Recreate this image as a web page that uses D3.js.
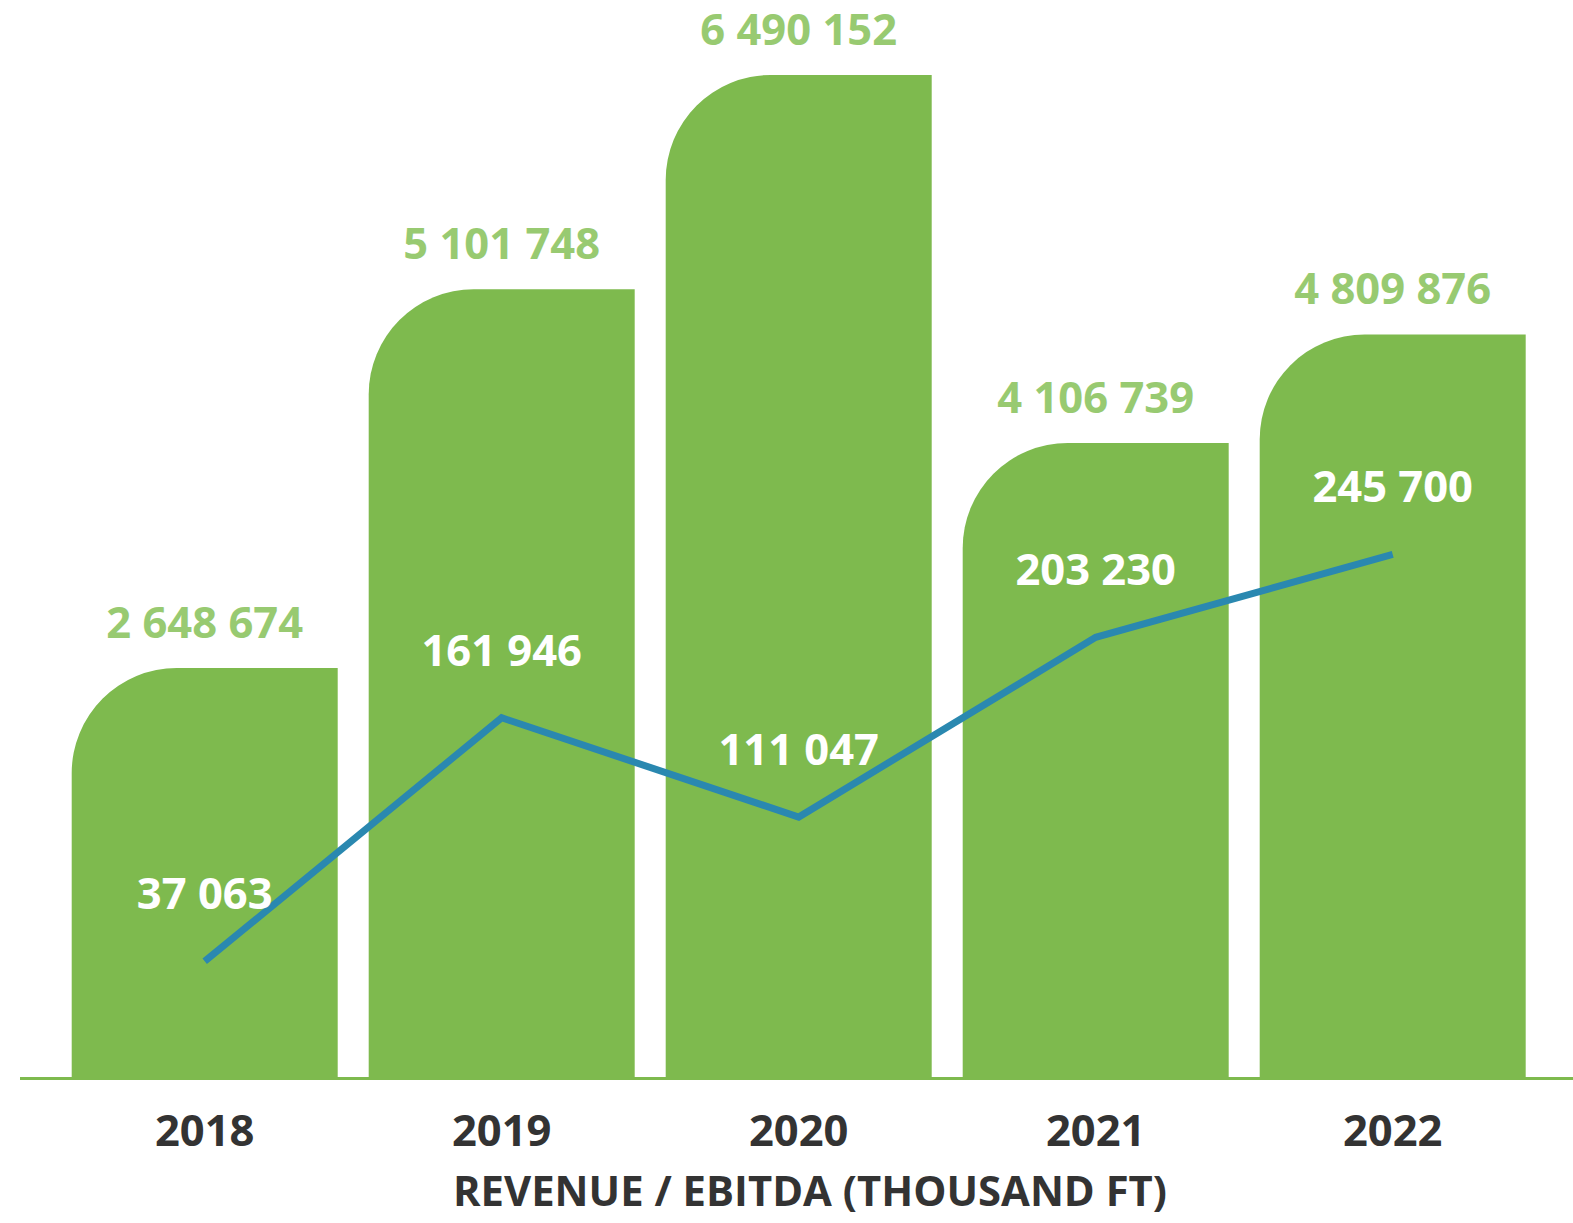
<!DOCTYPE html>
<html>
<head>
<meta charset="utf-8">
<script src="https://cdn.jsdelivr.net/npm/d3@7"></script>
<style>
  html, body { margin: 0; padding: 0; background: #fff; }
  svg { display: block; }
  text { font-family: "Open Sans", "Noto Sans", sans-serif; font-weight: 700; }
</style>
</head>
<body>
<svg id="chart" width="1573" height="1223"></svg>
<script>
const years = ["2018", "2019", "2020", "2021", "2022"];
const revenue = [2648674, 5101748, 6490152, 4106739, 4809876];
const ebitda = [37063, 161946, 111047, 203230, 245700];
const revenueLabels = ["2 648 674", "5 101 748", "6 490 152", "4 106 739", "4 809 876"];
const ebitdaLabels = ["37 063", "161 946", "111 047", "203 230", "245 700"];
const axisTitle = "REVENUE / EBITDA (THOUSAND FT)";

const svg = d3.select("#chart");
const W = 1573;
const base = 1077;

const x = d3.scaleBand().domain(years).range([71.7, 1525.7]).paddingInner(31 / 297).paddingOuter(0);
const yRev = d3.scaleLinear().domain([0, 6490152]).range([base, 75]);
const yEb = d3.scaleLinear().domain([0, 300000]).range([1033.6, 448.6]);

const barColor = "#7eba4e";
const revLabelColor = "#98ca71";
const lineColor = "#2a88b0";
const textColor = "#333333";
const r = 105;
const fs = 43.5;

function barPath(i) {
  const x0 = x(years[i]), w = x.bandwidth(), top = yRev(revenue[i]);
  const rr = Math.min(r, base - top, w);
  return `M${x0},${base} L${x0},${top + rr} A${rr},${rr} 0 0 1 ${x0 + rr},${top} L${x0 + w},${top} L${x0 + w},${base} Z`;
}

svg.append("g").selectAll("path").data(years).join("path")
  .attr("d", (d, i) => barPath(i))
  .attr("fill", barColor);

// baseline
svg.append("line")
  .attr("x1", 20).attr("x2", W)
  .attr("y1", base + 1.5).attr("y2", base + 1.5)
  .attr("stroke", barColor).attr("stroke-width", 3);

// revenue labels
svg.append("g").selectAll("text").data(years).join("text")
  .attr("x", d => x(d) + x.bandwidth() / 2)
  .attr("y", (d, i) => yRev(revenue[i]) - 30)
  .attr("text-anchor", "middle")
  .attr("font-size", fs)
  .attr("fill", revLabelColor)
  .text((d, i) => revenueLabels[i]);

// EBITDA line
const line = d3.line()
  .x((d, i) => x(years[i]) + x.bandwidth() / 2)
  .y(d => yEb(d));
svg.append("path")
  .datum(ebitda)
  .attr("d", line)
  .attr("fill", "none")
  .attr("stroke", lineColor)
  .attr("stroke-width", 7)
  .attr("stroke-linejoin", "miter");

// EBITDA labels
svg.append("g").selectAll("text").data(ebitda).join("text")
  .attr("x", (d, i) => x(years[i]) + x.bandwidth() / 2)
  .attr("y", d => yEb(d) - 52)
  .attr("text-anchor", "middle")
  .attr("font-size", fs)
  .attr("fill", "#ffffff")
  .text((d, i) => ebitdaLabels[i]);

// year labels
svg.append("g").selectAll("text").data(years).join("text")
  .attr("x", d => x(d) + x.bandwidth() / 2)
  .attr("y", 1146)
  .attr("text-anchor", "middle")
  .attr("font-size", fs)
  .attr("fill", textColor)
  .text(d => d);

// axis title
svg.append("text")
  .attr("x", 810)
  .attr("y", 1206)
  .attr("text-anchor", "middle")
  .attr("font-size", 42)
  .attr("fill", textColor)
  .attr("textLength", 714)
  .attr("lengthAdjust", "spacingAndGlyphs")
  .text(axisTitle);
</script>
</body>
</html>
